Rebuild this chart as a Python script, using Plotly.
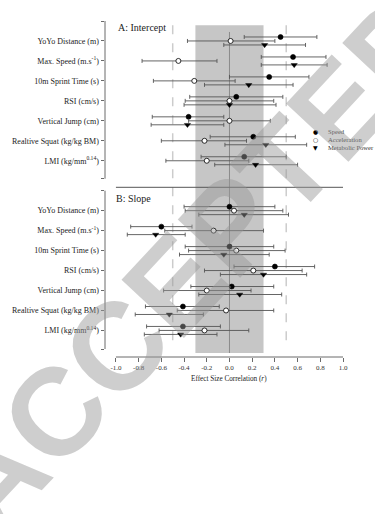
import plotly.graph_objects as go

# ---------------- data ----------------
categories = ["YoYo Distance (m)", "Max. Speed (m.s<sup>-1</sup>)", "10m Sprint Time (s)",
              "RSI (cm/s)", "Vertical Jump (cm)", "Realtive Squat (kg/kg BM)",
              "LMI (kg/mm<sup>0.14</sup>)"]
series_names = ["Speed", "Acceleration", "Metabolic Power"]

# Panel A: Intercept  (point estimate, lower CI, upper CI)
speed_A = [0.45, 0.56, 0.35, 0.06, -0.36, 0.21, 0.13]
speed_A_lo = [0.13, 0.28, 0.00, -0.35, -0.68, -0.17, -0.25]
speed_A_hi = [0.77, 0.85, 0.70, 0.47, -0.05, 0.58, 0.50]
accel_A = [0.01, -0.45, -0.31, 0.00, 0.00, -0.22, -0.20]
accel_A_lo = [-0.37, -0.77, -0.67, -0.39, -0.36, -0.60, -0.56]
accel_A_hi = [0.40, -0.11, 0.05, 0.39, 0.36, 0.15, 0.17]
metab_A = [0.31, 0.57, 0.17, 0.00, -0.37, 0.32, 0.23]
metab_A_lo = [-0.05, 0.28, -0.22, -0.40, -0.69, -0.04, -0.13]
metab_A_hi = [0.67, 0.86, 0.56, 0.41, -0.05, 0.68, 0.60]

# Panel B: Slope
speed_B = [0.00, -0.60, 0.00, 0.40, 0.02, -0.41, -0.41]
speed_B_lo = [-0.40, -0.87, -0.39, 0.04, -0.34, -0.74, -0.73]
speed_B_hi = [0.40, -0.33, 0.39, 0.75, 0.39, -0.09, -0.08]
accel_B = [0.04, -0.14, 0.06, 0.21, -0.20, -0.03, -0.22]
accel_B_lo = [-0.39, -0.57, -0.36, -0.22, -0.58, -0.46, -0.62]
accel_B_hi = [0.47, 0.30, 0.49, 0.64, 0.19, 0.39, 0.17]
metab_B = [0.13, -0.65, -0.05, 0.30, 0.09, -0.53, -0.43]
metab_B_lo = [-0.27, -0.90, -0.44, -0.08, -0.27, -0.83, -0.75]
metab_B_hi = [0.52, -0.39, 0.35, 0.68, 0.46, -0.23, -0.11]

x_ticks = [-1.0, -0.8, -0.6, -0.4, -0.2, 0.0, 0.2, 0.4, 0.6, 0.8, 1.0]

# ---------------- layout constants ----------------
W, H = 375, 514
L_PX, R_PX, T_PX, B_PX = 105, 343.3, 20.7, 357.3
X_MIN = -1.0963
Y_TOP, Y_BOT = -1.0, 15.83
PANEL_B_START = 8.5
OFFS = [-0.2, 0.0, 0.2]
SERIF = "Liberation Serif"
LINE_COL = "#6a6a6a"
ERR_COL = "#555555"

def px2paper(px, py):
    return (px - L_PX) / (R_PX - L_PX), (B_PX - py) / (B_PX - T_PX)

fig = go.Figure()

panels = [
    (0.0, [(speed_A, speed_A_lo, speed_A_hi), (accel_A, accel_A_lo, accel_A_hi),
           (metab_A, metab_A_lo, metab_A_hi)]),
    (PANEL_B_START, [(speed_B, speed_B_lo, speed_B_hi), (accel_B, accel_B_lo, accel_B_hi),
                     (metab_B, metab_B_lo, metab_B_hi)]),
]
marker_styles = [
    dict(symbol="circle", size=5, color="black", line=dict(color="black", width=0.6)),
    dict(symbol="circle", size=5, color="white", line=dict(color="black", width=0.8)),
    dict(symbol="triangle-down", size=5.5, color="black", line=dict(color="black", width=0.4)),
]

for base, sers in panels:
    for k, (pt, lo, hi) in enumerate(sers):
        ys = [base + i + OFFS[k] for i in range(len(categories))]
        fig.add_trace(go.Scatter(
            x=pt, y=ys, mode="markers", showlegend=False, name=series_names[k],
            marker=marker_styles[k],
            error_x=dict(type="data", symmetric=False,
                         array=[h - p for p, h in zip(pt, hi)],
                         arrayminus=[p - l for p, l in zip(pt, lo)],
                         color=ERR_COL, thickness=0.9, width=2),
        ))

shapes = [
    # grey band of trivial effect
    dict(type="rect", xref="x", yref="y", x0=-0.3, x1=0.3, y0=-0.785, y1=15.63,
         fillcolor="#c6c6c6", line=dict(width=0), layer="below"),
    # dashed lines
    dict(type="line", xref="x", yref="y", x0=-0.5, x1=-0.5, y0=-0.785, y1=15.4,
         line=dict(color="#cccccc", width=1.5, dash="dash"), layer="below"),
    dict(type="line", xref="x", yref="y", x0=0.5, x1=0.5, y0=-0.785, y1=15.4,
         line=dict(color="#cccccc", width=1.5, dash="dash"), layer="below"),
    # zero line
    dict(type="line", xref="x", yref="y", x0=0, x1=0, y0=-0.45, y1=15.63,
         line=dict(color="#8a8a8a", width=1), layer="below"),
    # y brackets
    dict(type="line", xref="paper", yref="y", x0=0, x1=0, y0=-1.0, y1=6.9,
         line=dict(color=LINE_COL, width=1)),
    dict(type="line", xref="paper", yref="y", x0=0, x1=0, y0=7.5, y1=15.43,
         line=dict(color=LINE_COL, width=1)),
    # separator
    dict(type="line", xref="x", yref="y", x0=-1, x1=1, y0=7.33, y1=7.33,
         line=dict(color="#555555", width=1)),
    # bottom x axis line
    dict(type="line", xref="x", yref="paper", x0=-1, x1=1, y0=0, y1=0,
         line=dict(color=LINE_COL, width=1)),
]

annotations = []
# panel titles
for txt, (px, py) in [("A: Intercept", (116.5, 27.5)), ("B: Slope", (114, 199))]:
    ax, ay = px2paper(px, py)
    annotations.append(dict(text=txt, x=ax, y=ay, xref="paper", yref="paper",
                            xanchor="left", yanchor="middle", showarrow=False,
                            font=dict(family=SERIF, size=10, color="#222")))
# axis title
tx, ty = px2paper(229.6, 379.5)
annotations.append(dict(text="Effect Size Correlation (<i>r</i>)", x=tx, y=ty,
                        xref="paper", yref="paper", xanchor="center", yanchor="middle",
                        showarrow=False, font=dict(family=SERIF, size=7.2, color="#222")))
# legend (manual)
legend_syms = ["\u25CF", "\u25CB", "\u25BC"]
for k, nm in enumerate(series_names):
    py = 131 + k * 8.1
    sx, sy = px2paper(315.7, py)
    annotations.append(dict(text=legend_syms[k], x=sx, y=sy, xref="paper", yref="paper",
                            xanchor="center", yanchor="middle", showarrow=False,
                            font=dict(family="DejaVu Sans", size=6, color="black")))
    lx, ly = px2paper(326.5, py)
    annotations.append(dict(text=nm, x=lx, y=ly, xref="paper", yref="paper",
                            xanchor="left", yanchor="middle", showarrow=False,
                            font=dict(family=SERIF, size=6.6, color="#333")))
# watermark
wx, wy = px2paper(196, 262)
annotations.append(dict(text="<b>ACCEPTED</b>", x=wx, y=wy, xref="paper", yref="paper",
                        xanchor="center", yanchor="middle", showarrow=False, textangle=-47,
                        font=dict(family="Liberation Sans", size=124, color="rgba(150,150,150,0.47)")))

tickvals_y = [Y_TOP] + list(range(len(categories))) + [6.9, 7.5] + \
             [PANEL_B_START + i for i in range(len(categories))] + [15.43]
ticktext_y = [""] + categories + ["", ""] + categories + [""]

fig.update_layout(
    width=W, height=H, paper_bgcolor="white", plot_bgcolor="white",
    margin=dict(l=L_PX, r=W - R_PX, t=T_PX, b=H - B_PX, pad=0),
    shapes=shapes, annotations=annotations, showlegend=False,
    xaxis=dict(range=[X_MIN, 1.0], showgrid=False, zeroline=False, showline=False,
               tickvals=x_ticks, ticktext=[f"{v:.1f}" for v in x_ticks],
               ticks="outside", ticklen=4, tickcolor=LINE_COL, tickwidth=1,
               tickfont=dict(family=SERIF, size=7, color="#333")),
    yaxis=dict(range=[Y_BOT, Y_TOP], showgrid=False, zeroline=False, showline=False,
               tickvals=tickvals_y, ticktext=ticktext_y,
               ticks="outside", ticklen=3.5, tickcolor=LINE_COL, tickwidth=1,
               tickfont=dict(family=SERIF, size=8, color="#222")),
)

fig.write_html("out.html")
